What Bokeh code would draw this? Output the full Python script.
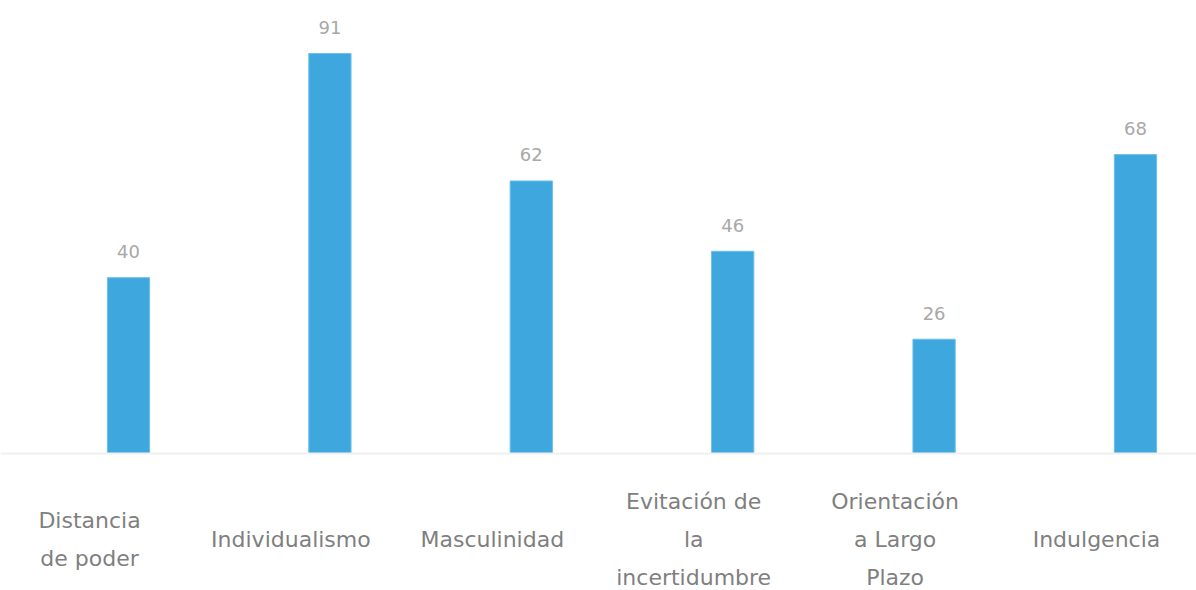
from bokeh.plotting import figure
from bokeh.models import ColumnDataSource, Range1d, Span
from bokeh.core.properties import value
from bokeh.embed import file_html
from bokeh.resources import INLINE

categories = ["Distancia\nde poder", "Individualismo", "Masculinidad",
              "Evitación de\nla\nincertidumbre", "Orientación\na Largo\nPlazo", "Indulgencia"]
scores = [40, 91, 62, 46, 26, 68]
score_labels = [str(v) for v in scores]

xs = list(range(len(categories)))
src = ColumnDataSource(dict(x=xs, top=scores, lab=score_labels, cat=categories,
                            ly=[-19.6] * len(xs)))

p = figure(width=1196, height=590, output_backend="svg", toolbar_location=None,
           x_range=Range1d(-0.6356, 5.303), y_range=Range1d(-31.16, 103.05),
           min_border=0)
p.axis.visible = False
p.grid.visible = False
p.outline_line_color = None
p.background_fill_color = "white"

p.add_layout(Span(location=0, dimension="width", line_color="#f0f0f0", line_width=2))

p.vbar(x="x", top="top", bottom=0, width=0.21, source=src,
       fill_color="#3EA8DE", line_color="#6CC0EA", line_width=1)

p.text(x="x", y="top", text="lab", source=src, y_offset=-26,
       text_align="center", text_baseline="middle", text_font=value("DejaVu Sans"),
       text_font_size="18px", text_color="#a8a8a8")

p.text(x="x", y="ly", text="cat", source=src, x_offset=-39,
       text_align="center", text_baseline="middle", text_font=value("DejaVu Sans"),
       text_font_size="22px", text_color="#7f7f7f", text_line_height=1.52)

open("out.html", "w").write(file_html(p, INLINE))
